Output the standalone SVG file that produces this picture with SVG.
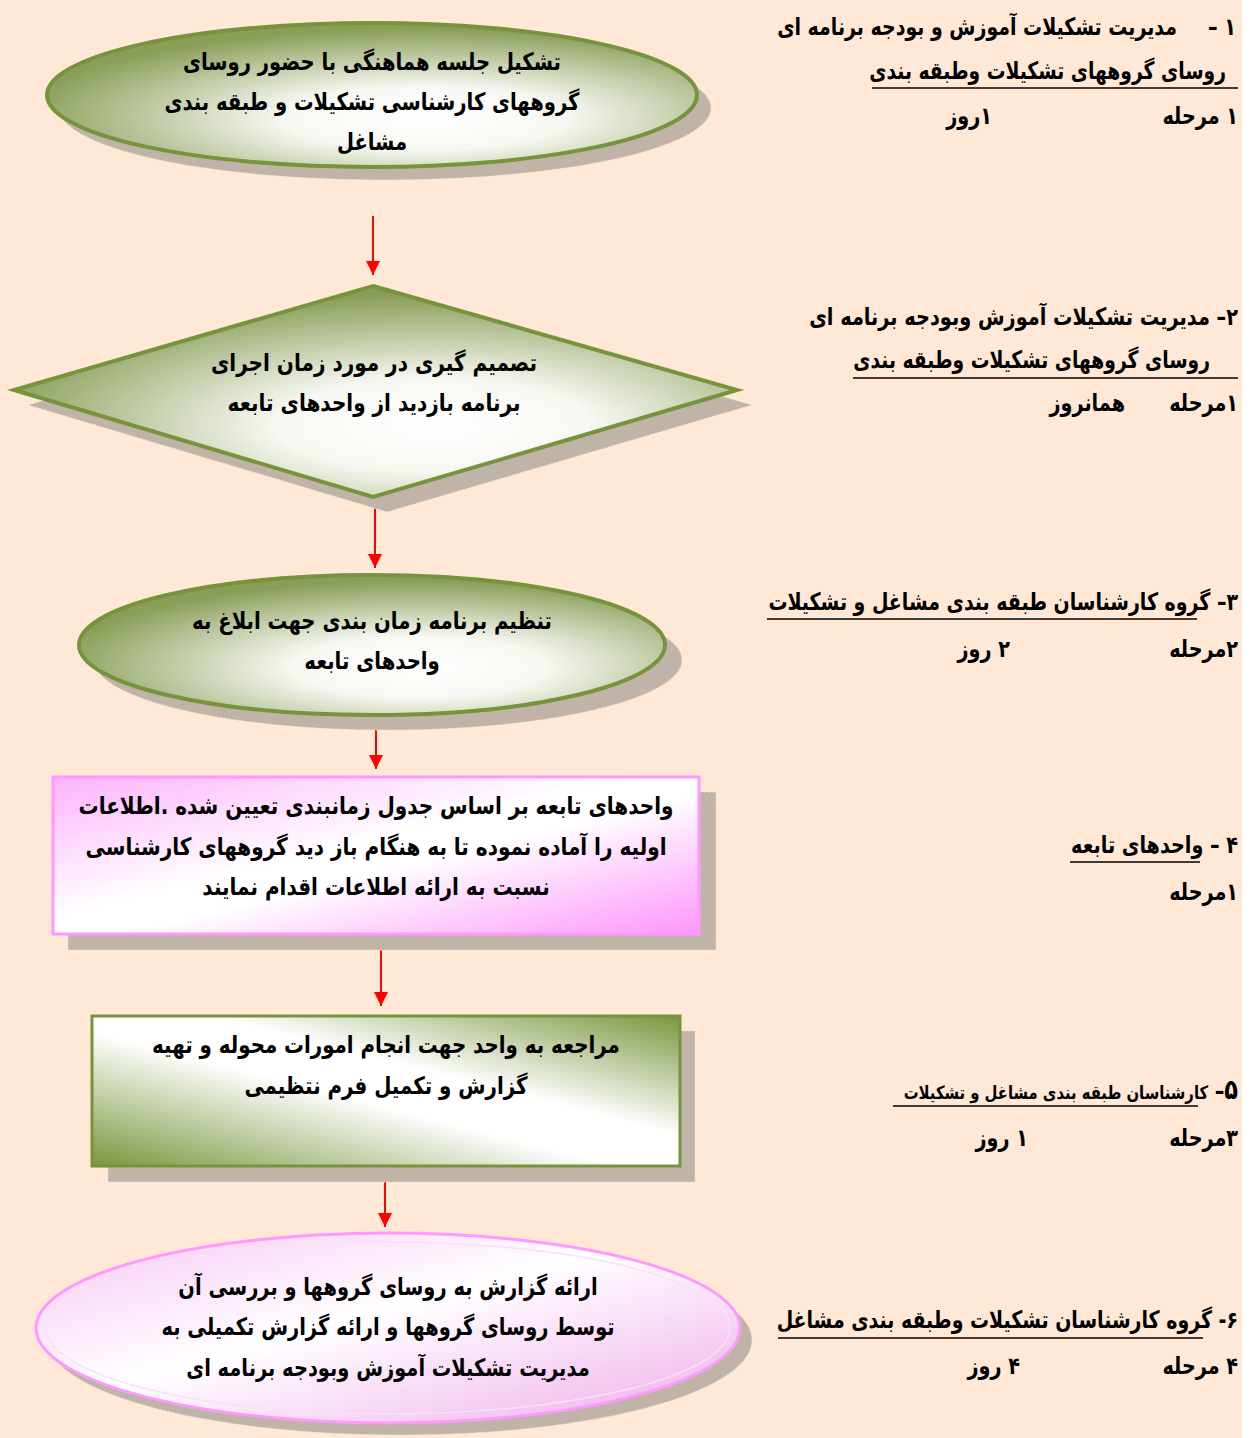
<svg xmlns="http://www.w3.org/2000/svg" width="1254" height="1438" viewBox="0 0 1254 1438">
<style>
.t{font-family:"DejaVu Sans","Noto Sans",sans-serif;font-weight:bold;font-size:24px;fill:#000;direction:rtl}
.c{text-anchor:middle}
.r{text-anchor:start}
.sh{fill:#c0b4a9;stroke:#ece2d8;stroke-width:1;stroke-dasharray:2 2}
.gs{stroke:#77933c;stroke-width:4}
.ps{stroke:#ff99ff;stroke-width:3}
.ar{stroke:#ff0000;stroke-width:2;fill:none;marker-end:url(#ah)}
.ul{stroke:#000;stroke-width:1.5}
</style>
<defs>
<marker id="ah" markerUnits="userSpaceOnUse" markerWidth="14" markerHeight="18" refX="14" refY="7" orient="auto">
<path d="M0,0 L14,7 L0,14 Z" fill="#ff0000"/>
</marker>
<radialGradient id="gr" cx="0.58" cy="0.66" r="0.62">
<stop offset="0" stop-color="#ffffff"/>
<stop offset="0.35" stop-color="#f7f8f2"/>
<stop offset="1" stop-color="#8a9e58"/>
</radialGradient>
<linearGradient id="gl" x1="0" y1="1" x2="1" y2="0">
<stop offset="0" stop-color="#7a963e"/>
<stop offset="0.45" stop-color="#ffffff"/>
<stop offset="0.6" stop-color="#ffffff"/>
<stop offset="1" stop-color="#7a963e"/>
</linearGradient>
<linearGradient id="pl" x1="0" y1="0" x2="1" y2="1">
<stop offset="0" stop-color="#fdb2fd"/>
<stop offset="0.45" stop-color="#ffffff"/>
<stop offset="0.55" stop-color="#ffffff"/>
<stop offset="1" stop-color="#fc96fc"/>
</linearGradient>
<linearGradient id="pe" x1="0" y1="0" x2="1" y2="1">
<stop offset="0" stop-color="#f6c4f4"/>
<stop offset="0.45" stop-color="#ffffff"/>
<stop offset="1" stop-color="#eeaaea"/>
</linearGradient>
</defs>
<rect x="0" y="0" width="1254" height="1438" fill="#ffffff"/>
<rect x="0" y="0" width="1242" height="1438" fill="#ffe9d6"/>

<g id="connectors">
<line class="ar" x1="373" y1="216" x2="373" y2="275"/>
<line class="ar" x1="375" y1="503" x2="375" y2="568"/>
<line class="ar" x1="376" y1="722" x2="376" y2="769"/>
<line class="ar" x1="381" y1="947" x2="381" y2="1006"/>
<line class="ar" x1="385" y1="1170" x2="385" y2="1227"/>
</g>

<g id="node1">
<ellipse class="sh" cx="385" cy="108" rx="326" ry="72"/>
<ellipse class="gs" cx="372" cy="95" rx="325" ry="72" fill="url(#gr)"/>
<text class="t c" transform="translate(372,70) scale(0.815,1)">تشکیل جلسه هماهنگی با حضور روسای</text>
<text class="t c" transform="translate(372,110) scale(0.815,1)">گروههای کارشناسی تشکیلات و طبقه بندی</text>
<text class="t c" transform="translate(372,150) scale(0.815,1)">مشاغل</text>
</g>

<g id="node2">
<polygon class="sh" points="387,300 752,405 387,512 28,405"/>
<polygon class="gs" points="373,286 737,390 373,497 14,390" fill="url(#gr)"/>
<text class="t c" transform="translate(374,371) scale(0.835,1)">تصمیم گیری در مورد زمان اجرای</text>
<text class="t c" transform="translate(374,411) scale(0.835,1)">برنامه بازدید از واحدهای تابعه</text>
</g>

<g id="node3">
<ellipse class="sh" cx="388" cy="660" rx="294" ry="70"/>
<ellipse class="gs" cx="372" cy="645" rx="293" ry="70" fill="url(#gr)"/>
<text class="t c" transform="translate(372,629) scale(0.82,1)">تنظیم برنامه زمان بندی جهت ابلاغ به</text>
<text class="t c" transform="translate(372,669) scale(0.82,1)">واحدهای تابعه</text>
</g>

<g id="node4">
<rect class="sh" x="68" y="792" width="648" height="158"/>
<rect class="ps" x="53" y="777" width="646" height="157" fill="url(#pl)"/>
<text class="t c" transform="translate(376,814) scale(0.834,1)">واحدهای تابعه بر اساس جدول زمانبندی تعیین شده .اطلاعات</text>
<text class="t c" transform="translate(376,855) scale(0.834,1)">اولیه را آماده نموده تا به هنگام باز دید گروههای کارشناسی</text>
<text class="t c" transform="translate(376,895) scale(0.834,1)">نسبت به ارائه اطلاعات اقدام نمایند</text>
</g>

<g id="node5">
<rect class="sh" x="108" y="1031" width="587" height="151"/>
<rect x="92" y="1016" width="588" height="150" fill="url(#gl)" stroke="#77933c" stroke-width="3"/>
<text class="t c" transform="translate(386,1053) scale(0.825,1)">مراجعه به واحد جهت انجام امورات محوله و تهیه</text>
<text class="t c" transform="translate(386,1094) scale(0.825,1)">گزارش و تکمیل فرم نتظیمی</text>
</g>

<g id="node6">
<ellipse class="sh" cx="400" cy="1340" rx="352" ry="95"/>
<ellipse class="ps" cx="388" cy="1328" rx="352" ry="95" fill="url(#pe)"/>
<ellipse cx="388" cy="1328" rx="342" ry="86" fill="none" stroke="#f8e0f6" stroke-width="1.5"/>
<text class="t c" transform="translate(388,1295) scale(0.81,1)">ارائه گزارش به روسای گروهها و بررسی آن</text>
<text class="t c" transform="translate(388,1335) scale(0.81,1)">توسط روسای گروهها و ارائه گزارش تکمیلی به</text>
<text class="t c" transform="translate(388,1376) scale(0.81,1)">مدیریت تشکیلات آموزش وبودجه برنامه ای</text>
</g>

<g id="notes">
<text class="t r" transform="translate(1236,35) scale(0.8,1)">۱ –</text>
<text class="t r" transform="translate(1177,35) scale(0.79,1)">مدیریت تشکیلات آموزش و بودجه برنامه ای</text>
<text class="t r" transform="translate(1226,79) scale(0.78,1)">روسای گروههای تشکیلات وطبقه بندی</text>
<line class="ul" x1="872" y1="88" x2="1238" y2="88"/>
<text class="t r" transform="translate(1238,124) scale(0.8,1)">۱ مرحله</text>
<text class="t r" transform="translate(992,124) scale(0.8,1)">۱روز</text>

<text class="t r" transform="translate(1238,325) scale(0.805,1)">۲– مدیریت تشکیلات آموزش وبودجه برنامه ای</text>
<text class="t r" transform="translate(1210,368) scale(0.78,1)">روسای گروههای تشکیلات وطبقه بندی</text>
<line class="ul" x1="853" y1="378" x2="1238" y2="378"/>
<text class="t r" transform="translate(1238,411) scale(0.8,1)">۱مرحله</text>
<text class="t r" transform="translate(1125,411) scale(0.8,1)">همانروز</text>

<text class="t r" transform="translate(1238,610) scale(0.79,1)">۳– گروه کارشناسان طبقه بندی مشاغل و تشکیلات</text>
<line class="ul" x1="767" y1="619" x2="1197" y2="619"/>
<text class="t r" transform="translate(1238,657) scale(0.8,1)">۲مرحله</text>
<text class="t r" transform="translate(1010,657) scale(0.8,1)">۲ روز</text>

<text class="t r" transform="translate(1238,853) scale(0.8,1)">۴ –  واحدهای تابعه</text>
<line class="ul" x1="1070" y1="862" x2="1200" y2="862"/>
<text class="t r" transform="translate(1238,900) scale(0.8,1)">۱مرحله</text>

<text class="t r" transform="translate(1238,1099) scale(0.8,1)"><tspan style="font-size:28px">۵</tspan>– <tspan style="font-size:18.5px">کارشناسان طبقه بندی مشاغل و تشکیلات</tspan></text>
<line class="ul" x1="893" y1="1106" x2="1198" y2="1106"/>
<text class="t r" transform="translate(1238,1146) scale(0.8,1)">۳مرحله</text>
<text class="t r" transform="translate(1028,1146) scale(0.8,1)">۱ روز</text>

<text class="t r" transform="translate(1238,1328) scale(0.79,1)">۶- گروه کارشناسان تشکیلات وطبقه بندی مشاغل</text>
<line class="ul" x1="778" y1="1338" x2="1203" y2="1338"/>
<text class="t r" transform="translate(1238,1374) scale(0.8,1)">۴ مرحله</text>
<text class="t r" transform="translate(1020,1374) scale(0.8,1)">۴ روز</text>
</g>
</svg>
